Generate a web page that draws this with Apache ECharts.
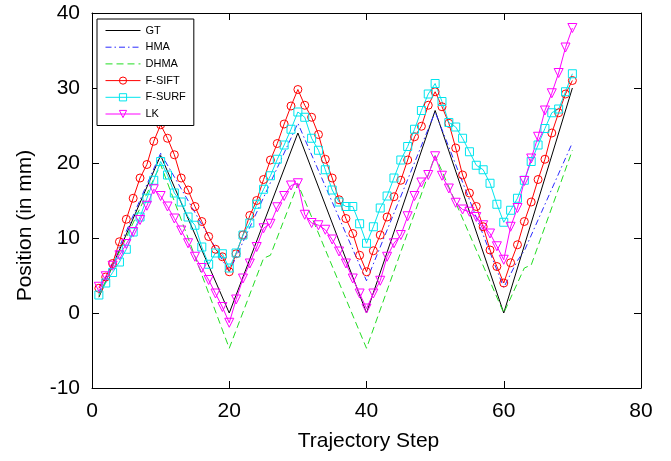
<!DOCTYPE html>
<html>
<head>
<meta charset="utf-8">
<script src="https://cdn.jsdelivr.net/npm/echarts@6/dist/echarts.min.js"></script>
<style>
html,body{margin:0;padding:0;background:#fff;}
#c{width:671px;height:461px;}
</style>
</head>
<body>
<div id="c"></div>
<script>
// ---- data (steps 1..70) ----
var seriesNames = ['GT', 'HMA', 'DHMA', 'F-SIFT', 'F-SURF', 'LK'];
var xTicks = [0, 20, 40, 60, 80];
var yTicks = [-10, 0, 10, 20, 30, 40];

// lines without markers: vertices [step, value]
var gtPts = [[1,2.1],[10,21],[20,0],[30,24],[40,0],[50,27],[60,0],[70,30]];
var hmaPts = [[1,2.6],[10,21.3],[20,5.5],[30,25.3],[40,4.3],[50,26.8],[60,3.4],[62,7.0],[63,8.3],[70,22.7]];
var dhmaPts = [[1,2.3],[10,19.8],[20,-4.7],[25,7.3],[26,7.7],[30,17.2],[40,-4.7],[50,21],[60,0],[63,6.0],[64,6.4],[70,21.7]];

// marker series, one value per step 1..70
var fSift = [3.3,4.8,6.6,9.5,12.5,15.3,18.0,19.8,22.9,25.1,
             23.3,21.1,18.0,16.4,14.2,12.2,10.2,8.5,7.5,5.5,
             7.9,10.4,13.0,15.0,17.8,20.4,22.6,25.2,27.6,29.8,
             27.7,26.1,23.8,20.5,18.0,15.1,12.6,10.6,7.7,5.5,
             8.3,10.4,12.8,15.5,17.7,20.4,23.5,24.9,27.7,29.5,
             27.5,25.3,22.0,18.4,16.0,14.2,11.5,8.4,6.2,4.0,
             6.7,9.1,12.2,14.8,17.8,20.5,24.0,26.7,29.2,31.0];
var fSurf = [2.4,4.0,5.4,6.8,8.5,10.8,12.8,15.3,17.7,20.2,
             18.4,16.0,14.8,12.8,11.7,8.8,6.5,8.0,7.9,6.0,
             8.0,10.4,12.0,14.5,16.5,18.3,20.5,22.4,24.5,26.8,
             26.1,23.3,21.7,19.1,16.4,14.8,14.2,14.2,11.9,9.3,
             11.5,14.0,15.6,18.0,20.4,22.2,24.5,27.0,29.2,30.6,
             28.2,25.4,24.8,23.3,21.5,19.7,19.1,17.3,14.5,12.1,
             13.7,15.3,17.7,20.2,22.4,24.6,26.7,27.2,29.5,31.9];
var lk = [3.5,4.9,6.3,7.7,9.2,10.8,12.4,14.3,16.5,15.6,
          14.2,12.6,11.0,9.3,7.5,6.0,4.4,2.6,0.8,-1.3,
          1.8,4.6,6.6,8.8,11.3,11.9,14.1,15.6,17.0,17.3,
          13.1,12.0,11.7,11.1,9.8,8.2,6.6,4.6,2.6,0.6,
          2.6,4.3,7.5,9.3,10.4,12.9,15.6,17.4,18.4,20.9,
          18.3,16.6,14.7,13.8,13.5,12.8,11.7,10.6,8.9,7.1,
          11.5,14.0,17.6,20.6,23.5,27.0,29.3,32.0,35.4,38.0];

function withSteps(arr){ return arr.map(function(v,i){ return [i+1, v]; }); }

var FONT = "'Liberation Sans', Arial, sans-serif";
var AX = '#000';
var FS = 21;
var COL = {GT:'#000000', HMA:'#2b2bff', DHMA:'#22dd22', 'F-SIFT':'#ff0000', 'F-SURF':'#00e5ee', LK:'#ff00ff'};

var chart = echarts.init(document.getElementById('c'), null, {renderer:'canvas'});

function hollow(col){ return {color:'rgba(255,255,255,0)', borderColor: col, borderWidth: 1}; }

function axisCommon(extra){
  var base = {
    axisLine: {show: true, onZero: false, lineStyle: {color: AX, width: 1}},
    axisTick: {show: true, inside: true, length: 7, lineStyle: {color: AX}},
    splitLine: {show: false}
  };
  for (var k in extra) base[k] = extra[k];
  return base;
}

var option = {
  animation: false,
  backgroundColor: '#fff',
  grid: {left: 92, right: 30, top: 13, bottom: 73, containLabel: false},
  legend: {
    orient: 'vertical', left: 97, top: 19,
    itemWidth: 35, itemHeight: 9, itemGap: 5.7,
    padding: [6, 8, 6, 8],
    borderColor: '#000', borderWidth: 1, backgroundColor: '#fff',
    textStyle: {fontFamily: FONT, fontSize: 11, color: '#000'},
    data: [
      {name: 'GT', itemStyle: {opacity: 0}, lineStyle: {width: 1}},
      {name: 'HMA', itemStyle: {opacity: 0}, lineStyle: {width: 1}},
      {name: 'DHMA', itemStyle: {opacity: 0}, lineStyle: {width: 1}},
      {name: 'F-SIFT', itemStyle: hollow(COL['F-SIFT']), lineStyle: {width: 1}},
      {name: 'F-SURF', itemStyle: hollow(COL['F-SURF']), lineStyle: {width: 1}},
      {name: 'LK', itemStyle: hollow(COL.LK), lineStyle: {width: 1}}
    ]
  },
  xAxis: [axisCommon({
    type: 'value', min: 0, max: 80, interval: 20,
    name: 'Trajectory Step', nameLocation: 'middle', nameGap: 43,
    nameTextStyle: {fontFamily: FONT, fontSize: FS, color: '#000', padding: [0, 0, 0, 4]},
    axisLabel: {fontFamily: FONT, fontSize: FS, color: '#000', margin: 13,
      formatter: function(v){ return xTicks.indexOf(v) >= 0 ? String(v) : ''; }}
  }), axisCommon({
    type: 'value', min: 0, max: 80, interval: 20, position: 'top',
    axisLabel: {show: false}
  })],
  yAxis: [axisCommon({
    type: 'value', min: -10, max: 40, interval: 10,
    name: 'Position (in mm)', nameLocation: 'middle', nameGap: 56,
    nameTextStyle: {fontFamily: FONT, fontSize: FS, color: '#000', padding: [0, 50, 0, 0]},
    axisLabel: {fontFamily: FONT, fontSize: FS, color: '#000', margin: 12,
      formatter: function(v){ return yTicks.indexOf(v) >= 0 ? String(v) : ''; }}
  }), axisCommon({
    type: 'value', min: -10, max: 40, interval: 10, position: 'right',
    axisLabel: {show: false}
  })],
  series: [
    {name: 'GT', type: 'line', data: gtPts, showSymbol: false, symbol: 'none',
     lineStyle: {color: COL.GT, width: 1}, itemStyle: {color: COL.GT}},
    {name: 'HMA', type: 'line', data: hmaPts, showSymbol: false, symbol: 'none',
     lineStyle: {color: COL.HMA, width: 1, type: [6, 3, 1.5, 3]}, itemStyle: {color: COL.HMA}},
    {name: 'DHMA', type: 'line', data: dhmaPts, showSymbol: false, symbol: 'none',
     lineStyle: {color: COL.DHMA, width: 1, type: [7, 4]}, itemStyle: {color: COL.DHMA}},
    {name: 'F-SIFT', type: 'line', data: withSteps(fSift), symbol: 'circle', symbolSize: 8,
     lineStyle: {color: COL['F-SIFT'], width: 1}, itemStyle: hollow(COL['F-SIFT'])},
    {name: 'F-SURF', type: 'line', data: withSteps(fSurf), symbol: 'rect', symbolSize: 8,
     lineStyle: {color: COL['F-SURF'], width: 1}, itemStyle: hollow(COL['F-SURF'])},
    {name: 'LK', type: 'line', data: withSteps(lk), symbol: 'triangle', symbolSize: 9, symbolRotate: 180,
     lineStyle: {color: COL.LK, width: 1}, itemStyle: hollow(COL.LK)}
  ]
};
chart.setOption(option);
</script>
</body>
</html>
